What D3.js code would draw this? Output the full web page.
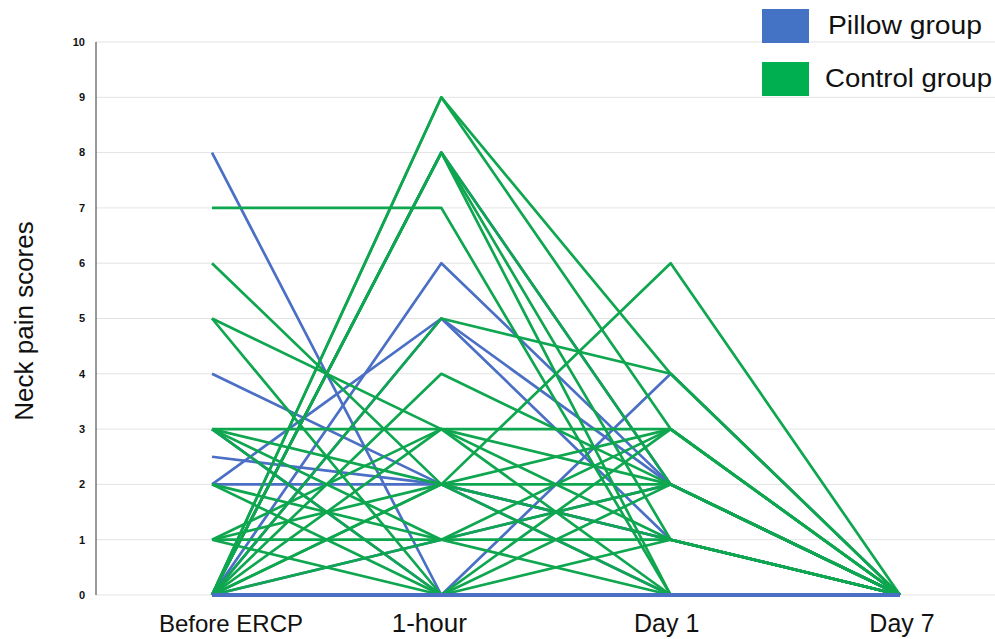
<!DOCTYPE html>
<meta charset="utf-8">
<style>
  body { margin: 0; background: #ffffff; }
  svg { display: block; font-family: "Liberation Sans", Arial, sans-serif; }
  .grid line { stroke: #e3e3e3; stroke-width: 1; }
  .ytick { font-size: 11px; font-weight: bold; fill: #111; }
  .xlab { fill: #111; }
  .leg { font-size: 25px; fill: #111; }
</style>
<body>
<script src="https://d3js.org/d3.v7.min.js"></script>
<script>
// time points and tick labels
var timepoints = ["Before ERCP", "1-hour", "Day 1", "Day 7"];
var yTicks = [0, 1, 2, 3, 4, 5, 6, 7, 8, 9, 10];

// neck pain scores per patient: [before, 1-hour, day 1, day 7]
var pillowGroup = [
  [8, 0, 4, 0],
  [4, 2, 1, 0],
  [3, 0, 0, 0],
  [2.5, 2, 0, 0],
  [2, 2, 1, 0],
  [2, 5, 2, 0],
  [0, 6, 2, 0],
  [0, 8, 2, 0],
  [0, 5, 1, 0],
  [0, 1, 2, 0],
  [0, 0, 0, 0],
  [0, 0, 0, 0]
];

var controlGroup = [
  [0, 9, 4, 0],
  [0, 9, 3, 0],
  [0, 8, 0, 0],
  [0, 8, 1, 0],
  [0, 8, 2, 0],
  [7, 7, 0, 0],
  [0, 5, 4, 0],
  [0, 4, 2, 0],
  [5, 3, 3, 0],
  [3, 3, 2, 0],
  [0, 3, 1, 0],
  [1, 3, 0, 0],
  [6, 2, 6, 0],
  [3, 2, 3, 0],
  [1, 2, 2, 0],
  [0, 2, 1, 0],
  [0, 2, 0, 0],
  [3, 1, 1, 0],
  [2, 1, 2, 0],
  [1, 1, 3, 0],
  [0, 1, 0, 0],
  [5, 0, 0, 0],
  [3, 0, 1, 0],
  [2, 0, 2, 0],
  [1, 0, 3, 0],
  [0, 0, 0, 0]
];

var groupNames = ["Pillow group", "Control group"];
var groupColors = ["#4472c4", "#00b050"];
var lineColors = ["#4a6fc4", "#0ea64e"];

var width = 995, height = 639;

var svg = d3.select("body").append("svg")
    .attr("width", width)
    .attr("height", height);

var x = d3.scalePoint().domain(timepoints).range([212, 900]);
var y = d3.scaleLinear().domain([0, 10]).range([595, 42]);

// gridlines
svg.append("g")
    .attr("class", "grid")
    .selectAll("line")
    .data(yTicks)
    .enter().append("line")
    .attr("x1", 96).attr("x2", width)
    .attr("y1", function(d) { return y(d); })
    .attr("y2", function(d) { return y(d); });

// y axis line + tick labels
svg.append("line")
    .attr("x1", 96).attr("x2", 96)
    .attr("y1", y(10)).attr("y2", y(0))
    .style("stroke", "#555").style("stroke-width", 1.2);

svg.append("g").selectAll("text")
    .data(yTicks)
    .enter().append("text")
    .attr("class", "ytick")
    .attr("x", 85)
    .attr("y", function(d) { return y(d); })
    .attr("dy", "0.35em")
    .attr("text-anchor", "end")
    .text(function(d) { return d; });

svg.append("text")
    .attr("transform", "translate(33,321) rotate(-90)")
    .attr("text-anchor", "middle")
    .style("font-size", "26px")
    .style("fill", "#111")
    .text("Neck pain scores");

// x labels (nudged like the original)
var labelShift = {"Before ERCP": 19, "1-hour": -12, "Day 1": -4, "Day 7": 2};
var labelSize = {"Before ERCP": 24, "1-hour": 26, "Day 1": 25, "Day 7": 25};
svg.append("g").selectAll("text")
    .data(timepoints)
    .enter().append("text")
    .attr("class", "xlab")
    .attr("x", function(d) { return x(d) + labelShift[d]; })
    .attr("y", 632)
    .attr("text-anchor", "middle")
    .style("font-size", function(d) { return labelSize[d] + "px"; })
    .text(function(d) { return d; });

var line = d3.line()
    .x(function(d, i) { return x(timepoints[i]); })
    .y(function(d) { return y(d); });

function drawLines(rows, color, w) {
  svg.append("g").selectAll("path")
      .data(rows)
      .enter().append("path")
      .attr("d", line)
      .style("fill", "none")
      .style("stroke", color)
      .style("stroke-width", w)
      .style("stroke-linejoin", "round");
}

function noPain(r) { return d3.max(r) === 0; }

// pillow patients with pain under the control lines, pain-free ones on top
drawLines(pillowGroup.filter(function(r) { return !noPain(r); }), lineColors[0], 2.7);
drawLines(controlGroup, lineColors[1], 2.7);
drawLines(pillowGroup.filter(noPain), lineColors[0], 3.8);

// legend
var legend = svg.append("g").selectAll("g")
    .data(groupNames)
    .enter().append("g")
    .attr("transform", function(d, i) { return "translate(762," + (9 + i * 53) + ")"; });

legend.append("rect")
    .attr("width", 47)
    .attr("height", 34)
    .style("fill", function(d, i) { return groupColors[i]; });

legend.append("text")
    .attr("class", "leg")
    .attr("x", function(d, i) { return i === 0 ? 66 : 63; })
    .attr("y", 25)
    .attr("textLength", function(d, i) { return i === 0 ? 154 : 167; })
    .attr("lengthAdjust", "spacingAndGlyphs")
    .text(function(d) { return d; });
</script>
</body>
